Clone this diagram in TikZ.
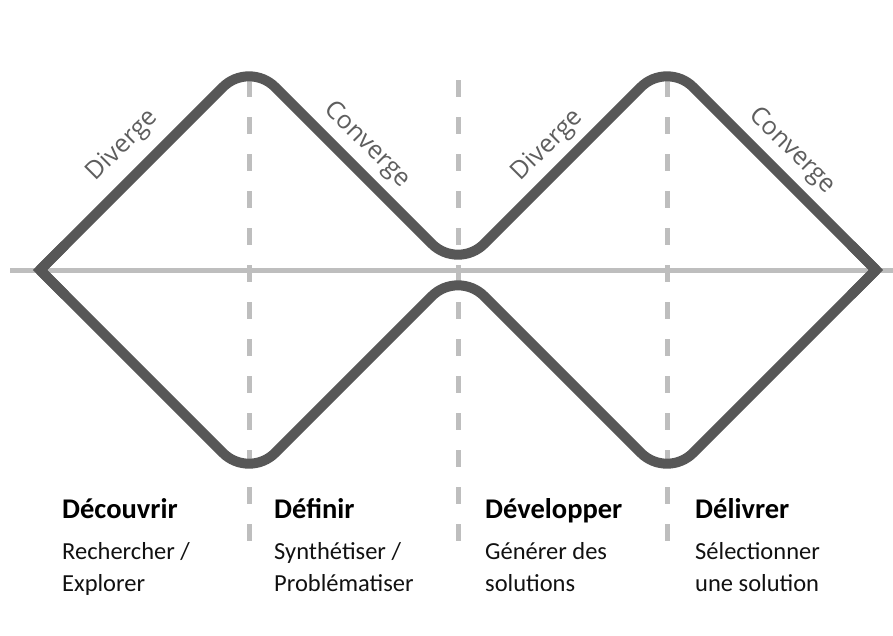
\documentclass[tikz,border=0pt]{standalone}
\usepackage{fontspec}
\setmainfont{Carlito}
\newfontfamily\osans{Open Sans}
\definecolor{dgrey}{HTML}{575757}
\definecolor{agrey}{HTML}{BEBEBE}
\definecolor{lgrey}{HTML}{5E5E5E}
\definecolor{tblack}{HTML}{111111}
\tikzset{
  axisline/.style={draw=agrey, line width=5pt},
  phaseline/.style={draw=agrey, line width=5pt, dash pattern=on 17pt off 20pt},
  diamondline/.style={draw=dgrey, line width=10pt, rounded corners=37pt, line join=round},
  tipline/.style={draw=dgrey, line width=10pt, line join=miter},
  phaselabel/.style={font=\osans\fontsize{25}{25}\selectfont, text=lgrey, inner sep=0pt},
  headtext/.style={font=\bfseries\fontsize{28.5}{28.5}\selectfont, text=black, anchor=base west, inner sep=0pt},
  subtext/.style={font=\fontsize{24.5}{24.5}\selectfont, text=tblack, anchor=base west, inner sep=0pt}
}
\begin{document}
\begin{tikzpicture}[x=1pt,y=-1pt]
\useasboundingbox[fill=white] (0,0) rectangle (893,635);
% key points
\coordinate (L) at (40,270);
\coordinate (P1) at (249,61);
\coordinate (M) at (458,270);
\coordinate (P2) at (667,61);
\coordinate (R) at (876,270);
\coordinate (V1) at (249,479);
\coordinate (V2) at (667,479);
\coordinate (H0) at (10,270);
\coordinate (H1) at (893,270);
\coordinate (D1t) at (249,80);
\coordinate (D1b) at (249,541);
\coordinate (D2t) at (458,80);
\coordinate (D2b) at (458,541);
\coordinate (D3t) at (667,80);
\coordinate (D3b) at (667,541);
\coordinate (La) at (65,245);
\coordinate (Lb) at (65,295);
\coordinate (Ra) at (851,245);
\coordinate (Rb) at (851,295);
% axis and phase separators
\draw[axisline] (H0) -- (H1);
\draw[phaseline] (D1t) -- (D1b);
\draw[phaseline] (D2t) -- (D2b);
\draw[phaseline] (D3t) -- (D3b);
% double diamond
\draw[diamondline] (L) -- (P1) -- (M) -- (P2) -- (R);
\draw[diamondline] (L) -- (V1) -- (M) -- (V2) -- (R);
\draw[tipline] (La) -- (L) -- (Lb);
\draw[tipline] (Ra) -- (R) -- (Rb);
% labels
\node[phaselabel, rotate=45] (dv1) at (123,146) {Diverge};
\node[phaselabel, rotate=-45] (cv1) at (367,145) {Converge};
\node[phaselabel, rotate=45] (dv2) at (548,146) {Diverge};
\node[phaselabel, rotate=-45] (cv2) at (792,151) {Converge};
% bottom texts
\node[headtext] (h1) at (62,518) {Découvrir};
\node[subtext] (s1a) at (62,559) {Rechercher /};
\node[subtext] (s1b) at (62,591) {Explorer};
\node[headtext] (h2) at (274,518) {Définir};
\node[subtext] (s2a) at (274,559) {Synthétiser /};
\node[subtext] (s2b) at (274,591) {Problématiser};
\node[headtext] (h3) at (485,518) {Développer};
\node[subtext] (s3a) at (485,559) {Générer des};
\node[subtext] (s3b) at (485,591) {solutions};
\node[headtext] (h4) at (695,518) {Délivrer};
\node[subtext] (s4a) at (695,559) {Sélectionner};
\node[subtext] (s4b) at (695,591) {une solution};
\end{tikzpicture}
\end{document}
